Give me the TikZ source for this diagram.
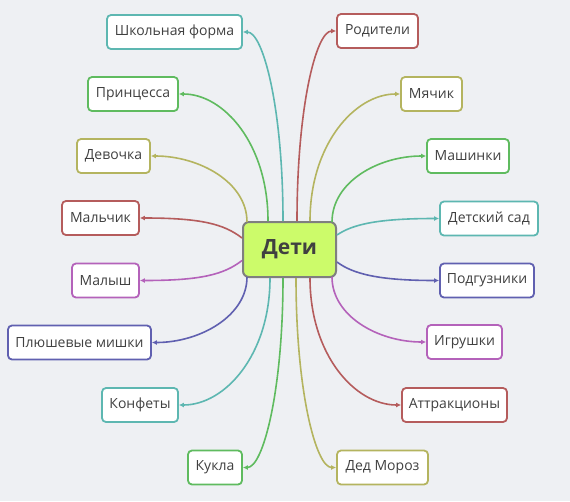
\documentclass[tikz,border=0pt]{standalone}
\usepackage{fontspec}
\setmainfont{Open Sans}
\usetikzlibrary{arrows.meta,calc}
\definecolor{bgc}{HTML}{EEF0F3}
\definecolor{txt}{HTML}{404040}
\definecolor{cteal}{HTML}{5DB7B1}
\definecolor{cgreen}{HTML}{5FBB5F}
\definecolor{colive}{HTML}{B4B45F}
\definecolor{cred}{HTML}{B55C5C}
\definecolor{cmag}{HTML}{B462BA}
\definecolor{cblue}{HTML}{6060B0}
\definecolor{clime}{HTML}{CCFB6A}
\definecolor{cgray}{HTML}{7F7F7F}
\tikzset{
  leaf/.style={draw=#1, line width=1.8pt, rounded corners=4pt, fill=white,
    text=txt, minimum height=34pt, inner sep=0pt, font=\fontsize{14}{16}\selectfont},
  conn/.style={draw=#1, line width=1.6pt, -{Latex[length=5pt,width=5pt]}},
  hub/.style={draw=cgray, line width=2pt, rounded corners=6pt, fill=clime,
    text=txt, minimum width=93pt, minimum height=55pt, inner sep=0pt,
    font=\fontsize{21}{24}\selectfont\bfseries}
}
\begin{document}
\begin{tikzpicture}[x=1pt,y=-1pt]
\fill[bgc] (0,0) rectangle (570,501);
\useasboundingbox (0,0) rectangle (570,501);
% hub
\node[hub] (c) at (289.5,249.5) {Дети};
% left nodes
\node[leaf=cteal,  minimum width=135pt] (n1) at (174.5,32)  {Школьная форма};
\node[leaf=cgreen, minimum width=90pt]  (n2) at (133,94)    {Принцесса};
\node[leaf=colive, minimum width=73pt]  (n3) at (113.5,156) {Девочка};
\node[leaf=cred,   minimum width=77pt]  (n4) at (100.5,218) {Мальчик};
\node[leaf=cmag,   minimum width=67pt]  (n5) at (105.5,280.5) {Малыш};
\node[leaf=cblue,  minimum width=143pt] (n6) at (79.5,342.5) {Плюшевые мишки};
\node[leaf=cteal,  minimum width=76pt]  (n7) at (140,405)   {Конфеты};
\node[leaf=cgreen, minimum width=54pt]  (n8) at (215,467.5) {Кукла};
% right nodes
\node[leaf=cred,   minimum width=81pt]  (m1) at (377.5,31)  {Родители};
\node[leaf=colive, minimum width=61pt]  (m2) at (431.5,94)  {Мячик};
\node[leaf=cgreen, minimum width=82pt]  (m3) at (468,156)   {Машинки};
\node[leaf=cteal,  minimum width=98pt]  (m4) at (489,218.5) {Детский сад};
\node[leaf=cblue,  minimum width=94pt]  (m5) at (487,280.5) {Подгузники};
\node[leaf=cmag,   minimum width=75pt]  (m6) at (464.5,342) {Игрушки};
\node[leaf=cred,   minimum width=105pt] (m7) at (454.5,405) {Аттракционы};
\node[leaf=colive, minimum width=91pt]  (m8) at (382.5,467.5) {Дед Мороз};
% start points on the hub
\coordinate (s1) at ([xshift=-6.5pt]c.north);
\coordinate (s2) at ([xshift=-21.5pt]c.north);
\coordinate (s3) at ([xshift=-42.5pt,yshift=-1pt]c.north);
\coordinate (s4) at ([yshift=11.5pt]c.west);
\coordinate (s5) at ([yshift=-11pt]c.west);
\coordinate (s6) at ([xshift=-42.5pt,yshift=1pt]c.south);
\coordinate (s7) at ([xshift=-19.5pt]c.south);
\coordinate (s8) at ([xshift=-6.5pt]c.south);
\coordinate (t1) at ([xshift=7.5pt]c.north);
\coordinate (t2) at ([xshift=20.5pt]c.north);
\coordinate (t3) at ([xshift=42.5pt,yshift=-1pt]c.north);
\coordinate (t4) at ([yshift=14.5pt]c.east);
\coordinate (t5) at ([yshift=-12.5pt]c.east);
\coordinate (t6) at ([xshift=42.5pt,yshift=1pt]c.south);
\coordinate (t7) at ([xshift=20.5pt]c.south);
\coordinate (t8) at ([xshift=6.5pt]c.south);
% connectors left
\draw[conn=cteal]  (s1) .. controls +(0,-114) and +(20,0) .. (n1.east);
\draw[conn=cgreen] (s2) .. controls +(0,-77) and +(45,0) .. (n2.east);
\draw[conn=colive] (s3) .. controls +(0,-40) and +(48,0) .. (n3.east);
\draw[conn=cred]   (s4) .. controls +(-18,-14) and +(61,0) .. (n4.east);
\draw[conn=cmag]   (s5) .. controls +(-18,14) and +(61,0) .. (n5.east);
\draw[conn=cblue]  (s6) .. controls +(0,39) and +(48,0) .. (n6.east);
\draw[conn=cteal]  (s7) .. controls +(0,77) and +(46,0) .. (n7.east);
\draw[conn=cgreen] (s8) .. controls +(0,114) and +(20,0) .. (n8.east);
% connectors right
\draw[conn=cred]   (t1) .. controls +(0,-114) and +(-20,0) .. (m1.west);
\draw[conn=colive] (t2) .. controls +(0,-77) and +(-45,0) .. (m2.west);
\draw[conn=cgreen] (t3) .. controls +(0,-40) and +(-48,0) .. (m3.west);
\draw[conn=cteal]  (t4) .. controls +(16,-11) and +(-60,0) .. (m4.west);
\draw[conn=cblue]  (t5) .. controls +(16,12) and +(-60,0) .. (m5.west);
\draw[conn=cmag]   (t6) .. controls +(0,39) and +(-48,0) .. (m6.west);
\draw[conn=cred]   (t7) .. controls +(0,77) and +(-46,0) .. (m7.west);
\draw[conn=colive] (t8) .. controls +(0,114) and +(-20,0) .. (m8.west);
\end{tikzpicture}
\end{document}
